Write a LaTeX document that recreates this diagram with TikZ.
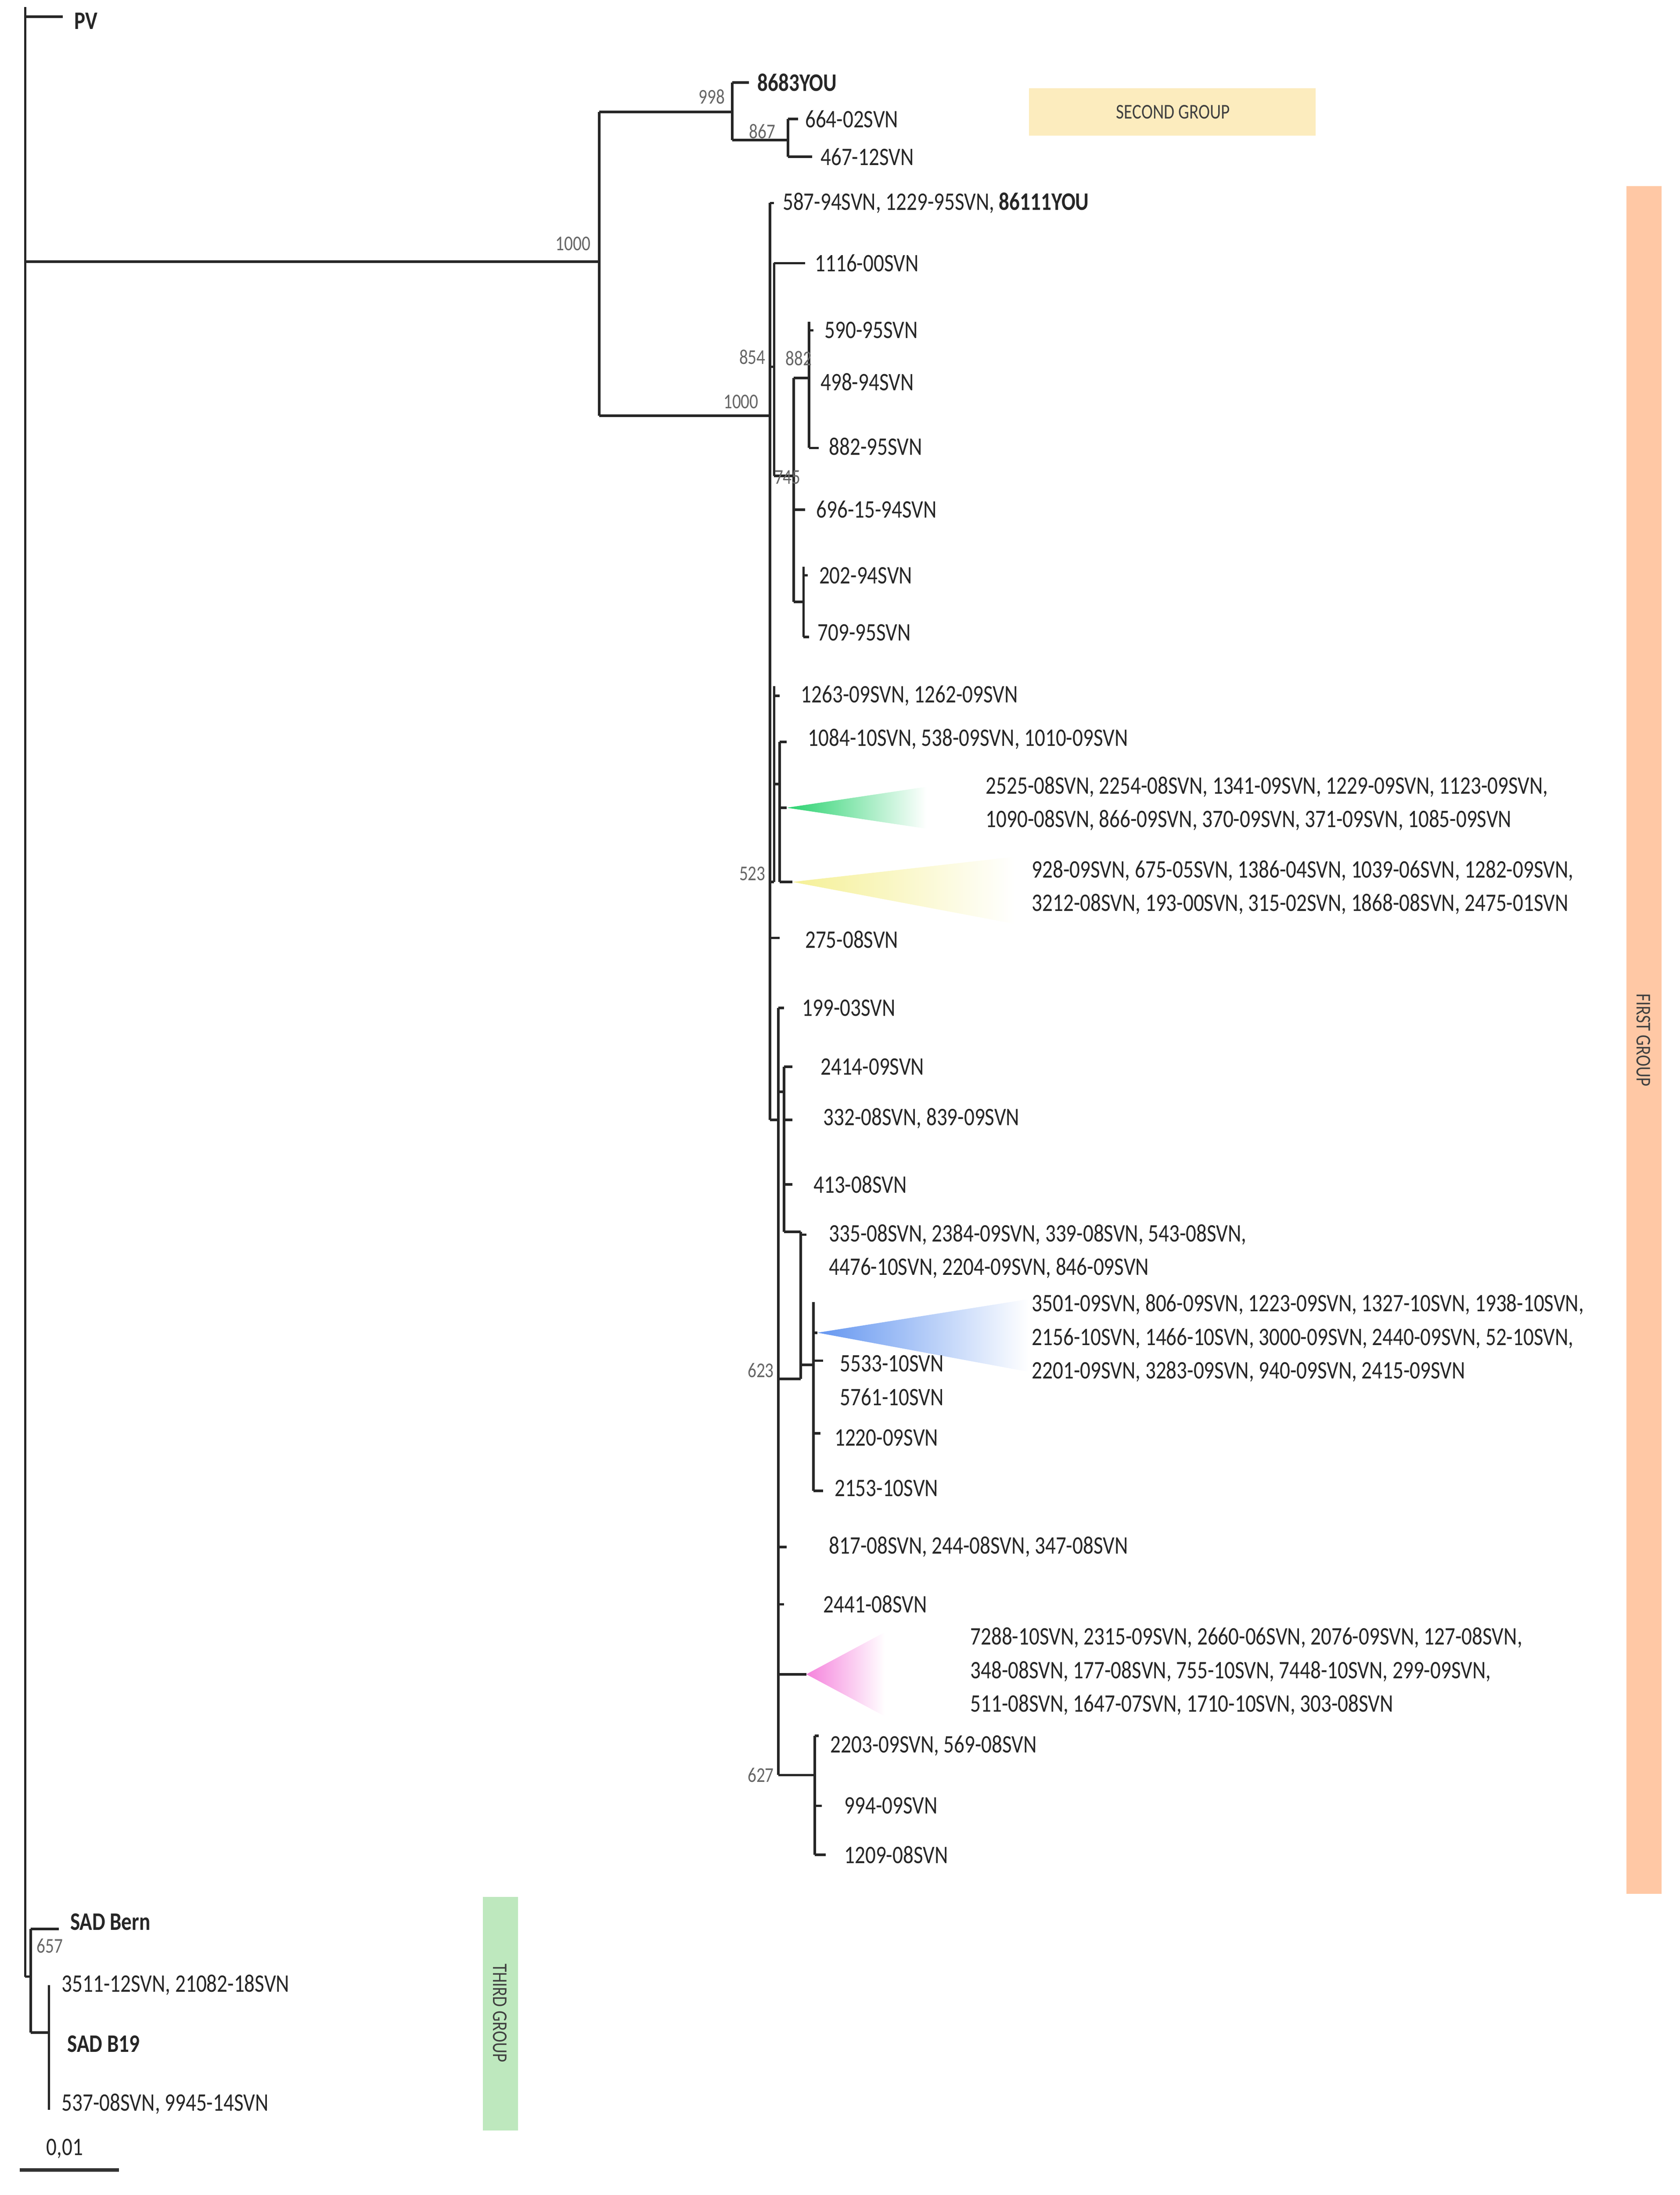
\documentclass[tikz,border=0pt]{standalone}
\usepackage{fontspec}
\setmainfont[FakeStretch=0.82]{Carlito}
\begin{document}
\begin{tikzpicture}[x=1pt,y=-1pt,
  lbl/.style={anchor=west,inner sep=0pt,font=\fontsize{18}{24}\selectfont,text=black!85,align=left},
  boot/.style={inner sep=0pt,font=\fontsize{15}{18}\selectfont,text=black!60},
  br/.style={line width=1.8pt,black!85},
  grp/.style={inner sep=0pt,font=\fontsize{15}{18}\selectfont,text=black!75}]
\useasboundingbox (0,0) rectangle (1200,1568);
% group bars
\fill[fill={rgb,255:red,252;green,236;blue,190}] (735,63) rectangle (940,97);
\node[grp] (g2) at (838,80) {SECOND GROUP};
\fill[fill={rgb,255:red,255;green,200;blue,165}] (1162,133) rectangle (1187,1353);
\node[grp,rotate=-90] (g1) at (1174,743) {FIRST GROUP};
\fill[fill={rgb,255:red,190;green,232;blue,190}] (345,1355) rectangle (370,1522);
\node[grp,rotate=-90] (g3) at (357,1438) {THIRD GROUP};
% collapsed clades
\shade[left color={rgb,255:red,40;green,210;blue,110},right color=white] (562,577) -- (662,562) -- (662,592) -- cycle;
\shade[left color={rgb,255:red,245;green,240;blue,150},right color=white] (566,630) -- (725,612) -- (725,660) -- cycle;
\shade[left color={rgb,255:red,100;green,150;blue,240},right color=white] (584,952) -- (735,928) -- (735,980) -- cycle;
\shade[left color={rgb,255:red,245;green,130;blue,220},right color=white] (576,1196) -- (632,1166) -- (632,1226) -- cycle;
% tree
\draw[br] (18,5) -- (18,1412);
\draw[br] (18,12) -- (45,12);
\draw[br] (18,187) -- (428,187);
\draw[br] (428,80) -- (428,297);
\draw[br] (428,80) -- (523,80);
\draw[br] (523,59) -- (523,100);
\draw[br] (523,59) -- (535,59);
\draw[br] (523,100) -- (563,100);
\draw[br] (563,85) -- (563,112);
\draw[br] (563,85) -- (570,85);
\draw[br] (563,112) -- (580,112);
\draw[br] (428,297) -- (550,297);
\draw[br] (550,145) -- (550,800);
\draw[br] (550,145) -- (553,145);
\draw[br] (550,262) -- (553,262);
\draw[br] (553,188) -- (553,340);
\draw[br] (553,188) -- (575,188);
\draw[br] (553,340) -- (567,340);
\draw[br] (567,270) -- (567,430);
\draw[br] (567,270) -- (578,270);
\draw[br] (578,230) -- (578,320);
\draw[br] (578,236) -- (581,236);
\draw[br] (578,320) -- (585,320);
\draw[br] (567,364) -- (575,364);
\draw[br] (567,430) -- (574,430);
\draw[br] (574,405) -- (574,455);
\draw[br] (574,411) -- (577,411);
\draw[br] (574,455) -- (578,455);
\draw[br] (550,630) -- (553,630);
\draw[br] (553,490) -- (553,630);
\draw[br] (553,497) -- (557,497);
\draw[br] (553,560) -- (557,560);
\draw[br] (557,530) -- (557,630);
\draw[br] (557,530) -- (562,530);
\draw[br] (557,577) -- (562,577);
\draw[br] (557,630) -- (566,630);
\draw[br] (550,670) -- (557,670);
\draw[br] (550,800) -- (556,800);
\draw[br] (556,720) -- (556,1268);
\draw[br] (556,720) -- (560,720);
\draw[br] (556,780) -- (560,780);
\draw[br] (560,762) -- (560,880);
\draw[br] (560,762) -- (566,762);
\draw[br] (560,800) -- (566,800);
\draw[br] (560,846) -- (566,846);
\draw[br] (560,880) -- (572,880);
\draw[br] (572,880) -- (572,985);
\draw[br] (556,985) -- (572,985);
\draw[br] (572,882) -- (576,882);
\draw[br] (572,975) -- (581,975);
\draw[br] (581,930) -- (581,1065);
\draw[br] (581,952) -- (584,952);
\draw[br] (581,972) -- (588,972);
\draw[br] (581,1024) -- (586,1024);
\draw[br] (581,1065) -- (588,1065);
\draw[br] (556,1105) -- (562,1105);
\draw[br] (556,1146) -- (560,1146);
\draw[br] (556,1196) -- (576,1196);
\draw[br] (556,1268) -- (582,1268);
\draw[br] (582,1240) -- (582,1325);
\draw[br] (582,1240) -- (585,1240);
\draw[br] (582,1290) -- (587,1290);
\draw[br] (582,1325) -- (590,1325);
\draw[br] (18,1412) -- (22,1412);
\draw[br] (22,1378) -- (22,1452);
\draw[br] (22,1378) -- (42,1378);
\draw[br] (22,1452) -- (35,1452);
\draw[br] (35,1418) -- (35,1507);
\draw[line width=2.5pt,black!80] (14,1550) -- (85,1550);
% bootstrap values
\node[boot,anchor=east] (b1) at (422,174) {1000};
\node[boot,anchor=east] (b2) at (518,69) {998};
\node[boot,anchor=east] (b3) at (554,94) {867};
\node[boot,anchor=east] (b4) at (547,255) {854};
\node[boot,anchor=west] (b5) at (561,256) {882};
\node[boot,anchor=east] (b6) at (542,287) {1000};
\node[boot,anchor=west] (b7) at (553,341) {745};
\node[boot,anchor=east] (b8) at (547,624) {523};
\node[boot,anchor=east] (b9) at (553,979) {623};
\node[boot,anchor=east] (b10) at (553,1268) {627};
\node[boot,anchor=west] (b11) at (26,1390) {657};
% labels
\node[lbl] (l0) at (53,15) {\textbf{PV}};
\node[lbl] (l1) at (541,59) {\textbf{8683YOU}};
\node[lbl] (l2) at (575,85) {664-02SVN};
\node[lbl] (l3) at (586,112) {467-12SVN};
\node[lbl] (l4) at (559,145) {587-94SVN, 1229-95SVN, \textbf{86111YOU}};
\node[lbl] (l5) at (582,188) {1116-00SVN};
\node[lbl] (l6) at (589,236) {590-95SVN};
\node[lbl] (l7) at (586,273) {498-94SVN};
\node[lbl] (l8) at (592,319) {882-95SVN};
\node[lbl] (l9) at (583,364) {696-15-94SVN};
\node[lbl] (l10) at (585,411) {202-94SVN};
\node[lbl] (l11) at (584,452) {709-95SVN};
\node[lbl] (l12) at (572,497) {1263-09SVN, 1262-09SVN};
\node[lbl] (l13) at (577,528) {1084-10SVN, 538-09SVN, 1010-09SVN};
\node[lbl] (l14) at (704,574) {2525-08SVN, 2254-08SVN, 1341-09SVN, 1229-09SVN, 1123-09SVN,\\1090-08SVN, 866-09SVN, 370-09SVN, 371-09SVN, 1085-09SVN};
\node[lbl] (l15) at (737,634) {928-09SVN, 675-05SVN, 1386-04SVN, 1039-06SVN, 1282-09SVN,\\3212-08SVN, 193-00SVN, 315-02SVN, 1868-08SVN, 2475-01SVN};
\node[lbl] (l16) at (575,671) {275-08SVN};
\node[lbl] (l17) at (573,720) {199-03SVN};
\node[lbl] (l18) at (586,762) {2414-09SVN};
\node[lbl] (l19) at (588,799) {332-08SVN, 839-09SVN};
\node[lbl] (l20) at (581,846) {413-08SVN};
\node[lbl] (l21) at (592,894) {335-08SVN, 2384-09SVN, 339-08SVN, 543-08SVN,\\4476-10SVN, 2204-09SVN, 846-09SVN};
\node[lbl] (l22) at (737,956) {3501-09SVN, 806-09SVN, 1223-09SVN, 1327-10SVN, 1938-10SVN,\\2156-10SVN, 1466-10SVN, 3000-09SVN, 2440-09SVN, 52-10SVN,\\2201-09SVN, 3283-09SVN, 940-09SVN, 2415-09SVN};
\node[lbl] (l23) at (600,974) {5533-10SVN};
\node[lbl] (l24) at (600,998) {5761-10SVN};
\node[lbl] (l25) at (596,1027) {1220-09SVN};
\node[lbl] (l26) at (596,1063) {2153-10SVN};
\node[lbl] (l27) at (592,1105) {817-08SVN, 244-08SVN, 347-08SVN};
\node[lbl] (l28) at (588,1146) {2441-08SVN};
\node[lbl] (l29) at (693,1194) {7288-10SVN, 2315-09SVN, 2660-06SVN, 2076-09SVN, 127-08SVN,\\348-08SVN, 177-08SVN, 755-10SVN, 7448-10SVN, 299-09SVN,\\511-08SVN, 1647-07SVN, 1710-10SVN, 303-08SVN};
\node[lbl] (l30) at (593,1247) {2203-09SVN, 569-08SVN};
\node[lbl] (l31) at (603,1290) {994-09SVN};
\node[lbl] (l32) at (603,1325) {1209-08SVN};
\node[lbl] (l33) at (50,1373) {\textbf{SAD Bern}};
\node[lbl] (l34) at (44,1418) {3511-12SVN, 21082-18SVN};
\node[lbl] (l35) at (48,1460) {\textbf{SAD B19}};
\node[lbl] (l36) at (44,1503) {537-08SVN, 9945-14SVN};
\node[lbl] (l37) at (33,1535) {0,01};
\end{tikzpicture}
\end{document}
